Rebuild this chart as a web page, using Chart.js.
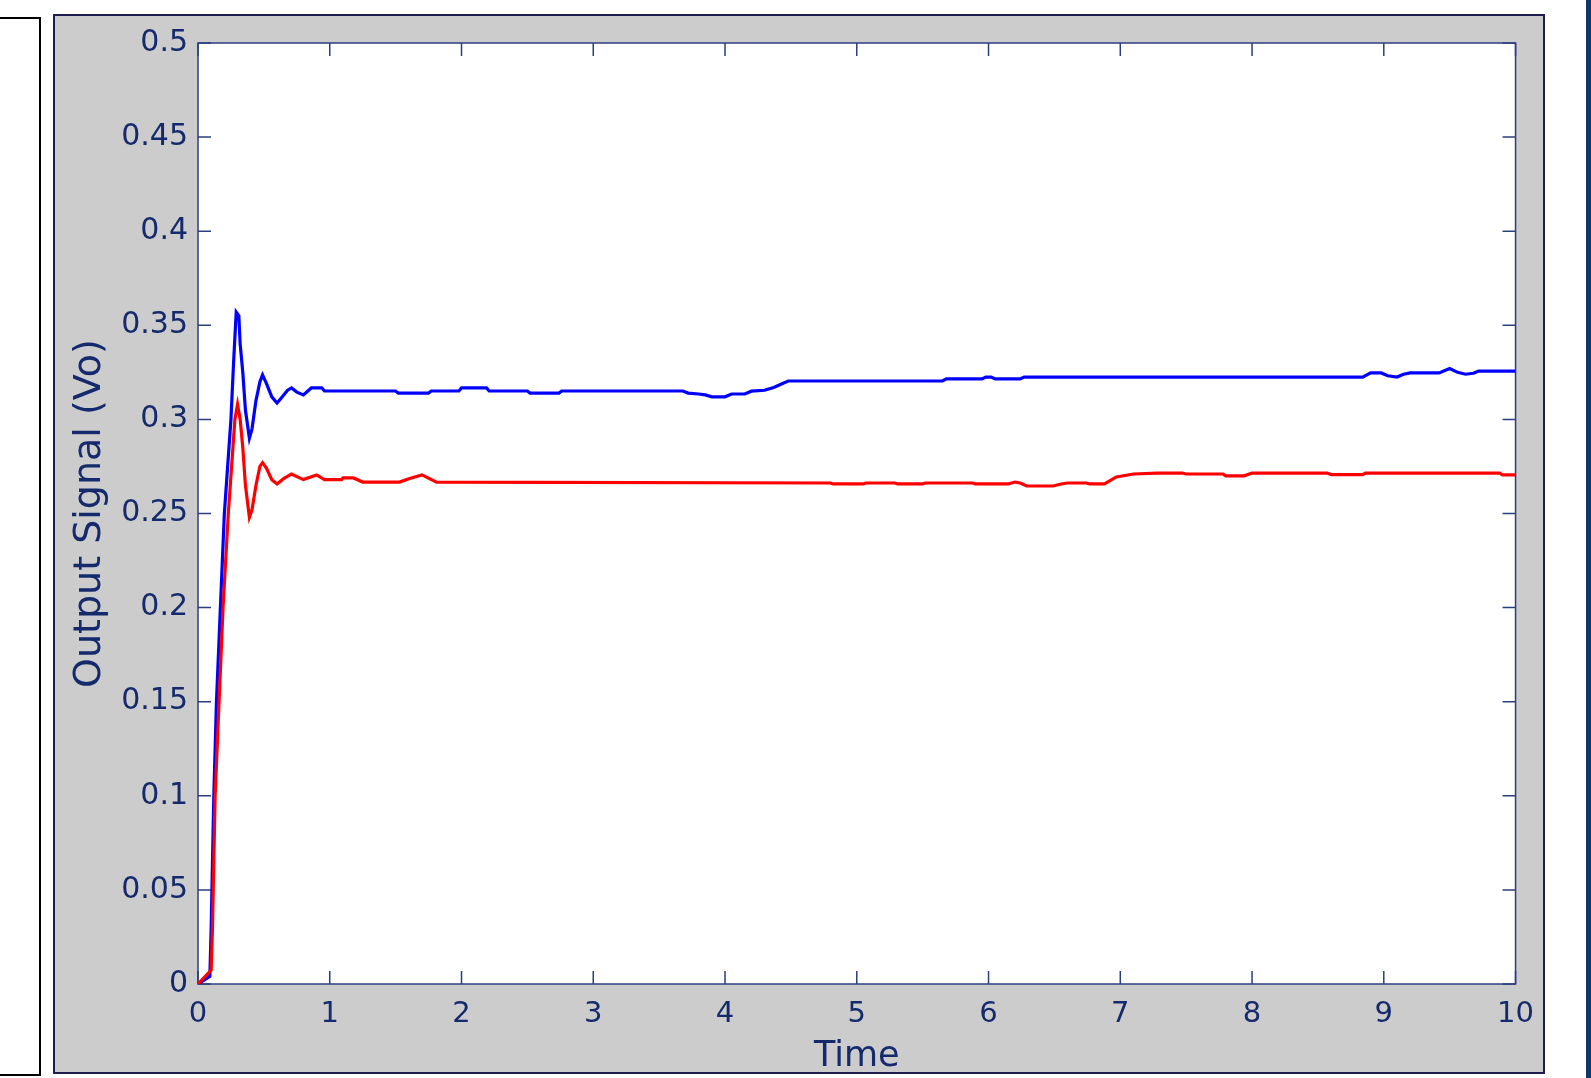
<!DOCTYPE html>
<html>
<head>
<meta charset="utf-8">
<script src="https://cdn.jsdelivr.net/npm/chart.js@4.4.1/dist/chart.umd.min.js"></script>
<style>
  html, body { margin: 0; padding: 0; background: #fff; overflow: hidden; }
  #leftBox { position: absolute; left: -10px; top: 17px; width: 47px; height: 1055px; border: 2px solid #000; background: #fff; }
  #panel { position: absolute; left: 53px; top: 14px; width: 1492px; height: 1060px; box-sizing: border-box; border: 2px solid #1d1d52; background: #cccccc; }
  #strip { position: absolute; left: 1586px; top: 0; width: 5px; height: 1078px; background: #0b3a6f; }
  #chart { position: absolute; left: 54px; top: 15px; }
</style>
</head>
<body>
<div id="leftBox"></div>
<div id="panel"></div>
<div id="strip"></div>
<canvas id="chart" width="1490" height="1058"></canvas>
<script>
// blue trace
const blueTime = [0, 0.09, 0.1, 0.12, 0.14, 0.17, 0.2, 0.22, 0.25, 0.27, 0.29, 0.31, 0.32, 0.34, 0.36, 0.39, 0.41, 0.44, 0.47, 0.49,
    0.52, 0.56, 0.6, 0.64, 0.68, 0.71, 0.75, 0.8, 0.86, 0.94, 0.96, 1.5, 1.52, 1.75, 1.77, 1.98, 2.0, 2.19, 2.21, 2.5,
    2.52, 2.74, 2.76, 3.68, 3.72, 3.8, 3.85, 3.9, 4.0, 4.05, 4.15, 4.2, 4.3, 4.37, 4.42, 4.48, 5.65, 5.68, 5.95, 5.98,
    6.02, 6.05, 6.24, 6.27, 8.84, 8.9, 8.98, 9.03, 9.1, 9.15, 9.2, 9.42, 9.5, 9.56, 9.62, 9.68, 9.72, 10];
const blueVo = [0, 0.004, 0.03, 0.1, 0.15, 0.2, 0.25, 0.27, 0.3, 0.33, 0.357, 0.355, 0.34, 0.325, 0.305, 0.29, 0.295, 0.31, 0.32, 0.3236,
    0.319, 0.312, 0.3087, 0.312, 0.3155, 0.3167, 0.3145, 0.313, 0.3167, 0.3167, 0.3151, 0.3151, 0.314, 0.314, 0.3151, 0.3151, 0.3167, 0.3167, 0.3151, 0.3151,
    0.314, 0.314, 0.3151, 0.3151, 0.314, 0.3135, 0.313, 0.312, 0.312, 0.3135, 0.3135, 0.315, 0.3155, 0.317, 0.3185, 0.3204, 0.3204, 0.3215, 0.3215, 0.3225,
    0.3225, 0.3215, 0.3215, 0.3225, 0.3225, 0.3247, 0.3247, 0.3232, 0.3225, 0.324, 0.3247, 0.3247, 0.327, 0.325, 0.324, 0.3245, 0.3257, 0.3257];

// red trace
const redTime = [0, 0.1, 0.11, 0.13, 0.16, 0.19, 0.23, 0.26, 0.28, 0.3, 0.32, 0.34, 0.36, 0.39, 0.41, 0.44, 0.47, 0.49, 0.52, 0.56,
    0.6, 0.65, 0.71, 0.8, 0.9, 0.96, 1.09, 1.1, 1.18, 1.25, 1.53, 1.6, 1.7, 1.81, 4.8, 4.82, 5.05, 5.07, 5.29, 5.31,
    5.5, 5.52, 5.88, 5.9, 6.15, 6.2, 6.24, 6.29, 6.49, 6.55, 6.6, 6.74, 6.77, 6.88, 6.97, 7.1, 7.28, 7.47, 7.5, 7.78,
    7.8, 7.94, 8.0, 8.57, 8.6, 8.84, 8.86, 9.88, 9.9, 10];
const redVo = [0, 0.0074, 0.03, 0.1, 0.15, 0.2, 0.25, 0.28, 0.3, 0.308, 0.3, 0.285, 0.265, 0.248, 0.252, 0.265, 0.275, 0.277, 0.274, 0.268,
    0.2657, 0.2685, 0.271, 0.268, 0.2705, 0.268, 0.268, 0.2689, 0.2689, 0.2667, 0.2667, 0.2685, 0.2705, 0.2667, 0.2662, 0.2657, 0.2657, 0.2662, 0.2662, 0.2657,
    0.2657, 0.2662, 0.2662, 0.2657, 0.2657, 0.2667, 0.2662, 0.2646, 0.2646, 0.2657, 0.2662, 0.2662, 0.2657, 0.2657, 0.2694, 0.271, 0.2715, 0.2715, 0.271, 0.271,
    0.27, 0.27, 0.2715, 0.2715, 0.2707, 0.2707, 0.2715, 0.2715, 0.2705, 0.2705];

const xTicks = [0, 1, 2, 3, 4, 5, 6, 7, 8, 9, 10];
const yTicks = [0, 0.05, 0.1, 0.15, 0.2, 0.25, 0.3, 0.35, 0.4, 0.45, 0.5];

const navy = '#142a6c';
const axisColor = '#2b3f80';
const tickLen = 13;

const toPoints = (t, v) => t.map((x, i) => ({ x: x, y: v[i] }));

// white plot box, outline and inward tick marks like the original figure
const frame = {
    id: 'frame',
    beforeDatasetsDraw(chart) {
        const { ctx, chartArea: a, scales } = chart;
        ctx.save();
        ctx.fillStyle = '#fff';
        ctx.fillRect(a.left, a.top, a.width, a.height);
        ctx.strokeStyle = axisColor;
        ctx.lineWidth = 1.5;
        ctx.strokeRect(a.left, a.top, a.width, a.height);
        ctx.beginPath();
        xTicks.forEach(t => {
            const px = scales.x.getPixelForValue(t);
            ctx.moveTo(px, a.bottom); ctx.lineTo(px, a.bottom - tickLen);
            ctx.moveTo(px, a.top); ctx.lineTo(px, a.top + tickLen);
        });
        yTicks.forEach(t => {
            const py = scales.y.getPixelForValue(t);
            ctx.moveTo(a.left, py); ctx.lineTo(a.left + tickLen, py);
            ctx.moveTo(a.right, py); ctx.lineTo(a.right - tickLen, py);
        });
        ctx.stroke();
        ctx.restore();
    }
};

new Chart(document.getElementById('chart'), {
    type: 'line',
    data: {
        datasets: [{
            label: 'red',
            data: toPoints(redTime, redVo),
            borderColor: '#ff0000',
            borderWidth: 3.2,
            pointRadius: 0,
            tension: 0
        }, {
            label: 'blue',
            data: toPoints(blueTime, blueVo),
            borderColor: '#0000ff',
            borderWidth: 3.2,
            pointRadius: 0,
            tension: 0
        }]
    },
    options: {
        responsive: false,
        animation: false,
        layout: { padding: { top: 28, right: 28, left: 0, bottom: 0 } },
        plugins: { legend: { display: false }, tooltip: { enabled: false } },
        scales: {
            x: {
                type: 'linear',
                min: 0,
                max: 10,
                afterFit: s => { s.height = 89; },
                afterBuildTicks: s => { s.ticks = xTicks.map(v => ({ value: v })); },
                grid: { display: false, drawTicks: false },
                border: { display: false },
                ticks: { color: navy, padding: 10, font: { family: 'DejaVu Sans', size: 29, lineHeight: 1.4 }, maxRotation: 0 },
                title: { display: true, text: 'Time', color: navy, padding: { top: 0, bottom: -5 }, font: { family: 'DejaVu Sans', size: 35 } }
            },
            y: {
                min: 0,
                max: 0.5,
                afterFit: s => { s.width = 144; },
                afterBuildTicks: s => { s.ticks = yTicks.map(v => ({ value: v })); },
                grid: { display: false, drawTicks: false },
                border: { display: false },
                ticks: { color: navy, padding: 10, font: { family: 'DejaVu Sans', size: 30 }, callback: v => String(+v.toFixed(2)) },
                title: { display: true, text: 'Output Signal (Vo)', color: navy, padding: { top: 13, bottom: 0 }, font: { family: 'DejaVu Sans', size: 38 } }
            }
        }
    },
    plugins: [frame]
});
</script>
</body>
</html>
